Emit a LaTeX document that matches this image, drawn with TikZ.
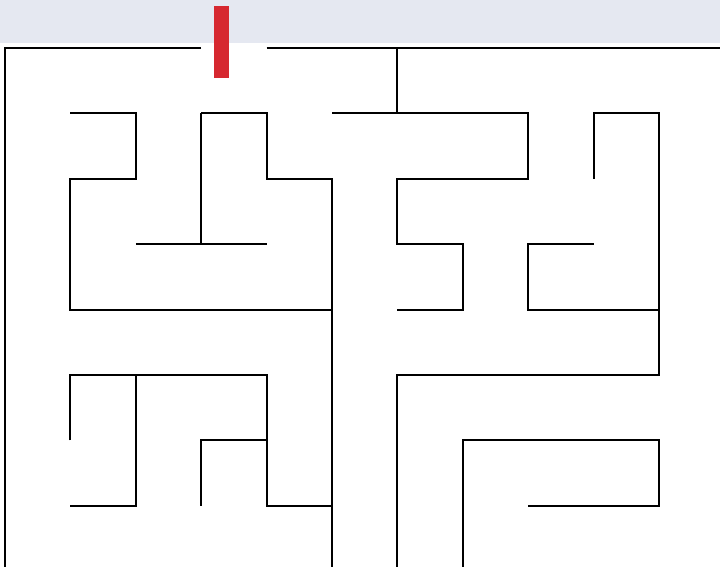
\documentclass[tikz,border=0pt]{standalone}
\usepackage{tikz}
\definecolor{bandgray}{RGB}{229,232,241}
\definecolor{markred}{RGB}{214,40,48}

\begin{document}
\begin{tikzpicture}[x=65.4pt,y=-65.4pt,
  wall/.style={draw=black,line width=2pt,line join=miter},
  band/.style={fill=bandgray},
  marker/.style={fill=markred}
]
\useasboundingbox (-5pt,48pt) rectangle (715pt,-518pt);
\clip (-5pt,48pt) rectangle (715pt,-518pt);
\fill[white] (-5pt,48pt) rectangle (715pt,-518pt);
\fill[band] (-5pt,48pt) rectangle (715pt,5pt);

% outer walls, gap for the entrance
\draw[wall] (3,0) -- (0,0) -- (0,8);
\draw[wall] (4,0) -- (11,0);
\draw[wall] (6,0) -- (6,1);

% left half
\draw[wall] (1,1) -- (2,1) -- (2,2) -- (1,2) -- (1,4) -- (5,4);
\draw[wall] (3,1) -- (4,1) -- (4,2) -- (5,2) -- (5,8);
\draw[wall] (3,1) -- (3,3);
\draw[wall] (2,3) -- (4,3);
\draw[wall] (1,6) -- (1,5) -- (4,5) -- (4,7) -- (5,7);
\draw[wall] (2,5) -- (2,7) -- (1,7);
\draw[wall] (3,7) -- (3,6) -- (4,6);

% right half
\draw[wall] (5,1) -- (8,1) -- (8,2) -- (6,2) -- (6,3) -- (7,3) -- (7,4) -- (6,4);
\draw[wall] (9,2) -- (9,1) -- (10,1) -- (10,4) -- (8,4) -- (8,3) -- (9,3);
\draw[wall] (10,4) -- (10,5) -- (6,5) -- (6,8);
\draw[wall] (7,8) -- (7,6) -- (10,6) -- (10,7) -- (8,7);

% entrance marker
\fill[marker] (209pt,42pt) rectangle (224pt,-30pt);
\end{tikzpicture}
\end{document}
